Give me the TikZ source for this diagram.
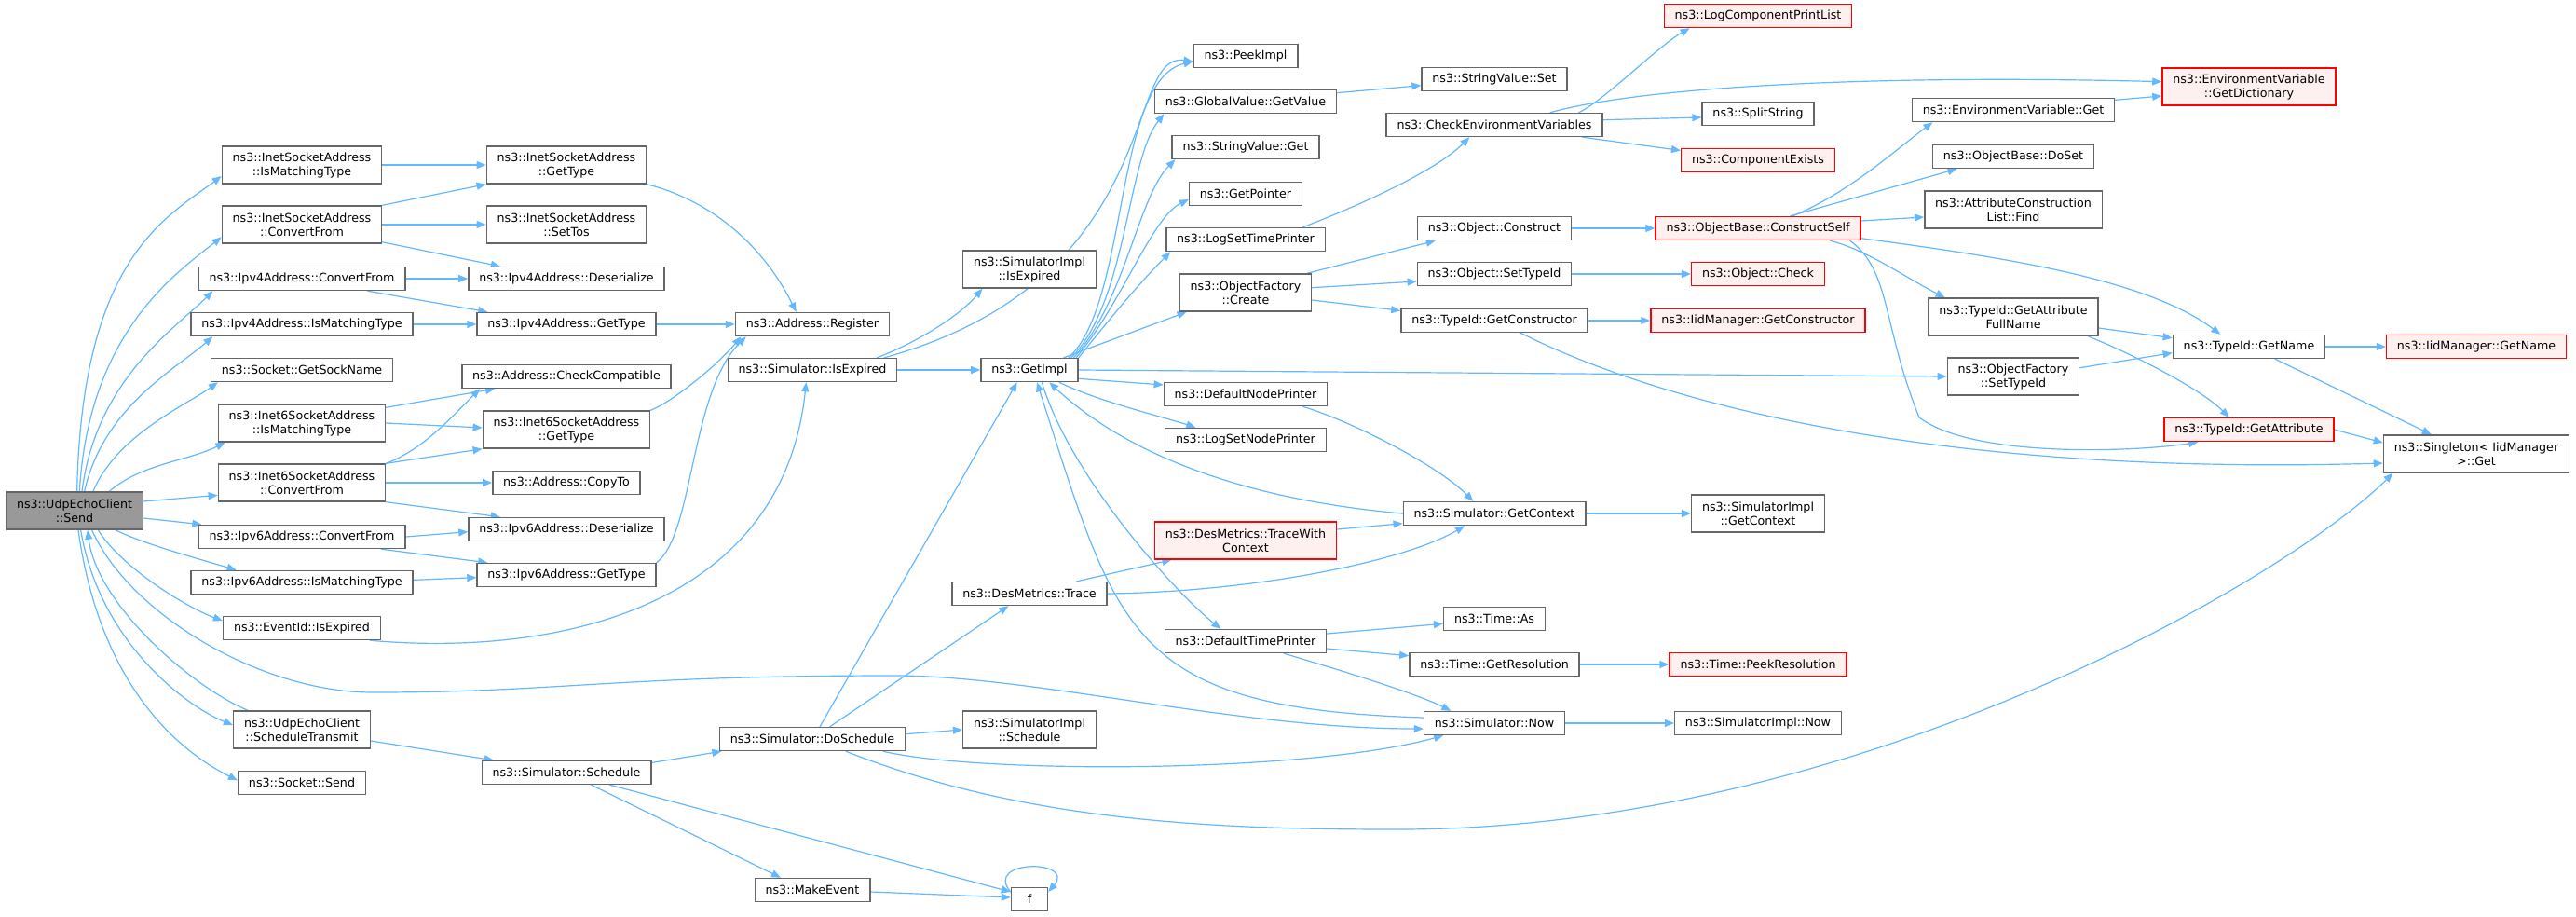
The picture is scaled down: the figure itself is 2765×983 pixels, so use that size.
\documentclass[tikz,border=0pt]{standalone}
\usepackage{fontspec}
\usepackage{xcolor}
\usepackage{tikz}
\usetikzlibrary{backgrounds,arrows.meta}
\newfontfamily\doxfont{DejaVu Sans}
\definecolor{bleuciel}{HTML}{63B8FF}
\definecolor{grisbord}{HTML}{666666}
\definecolor{grisracine}{HTML}{999999}
\definecolor{rosepale}{HTML}{FFF0F0}
\definecolor{rougevif}{HTML}{FF0000}

\begin{document}
\begin{tikzpicture}[x=0.75pt,y=-0.75pt]
                \tikzset{
                  boite/.style={
                    draw=grisbord,fill=white,line width=1.1pt,align=center,
                    font=\doxfont\fontsize{9.5pt}{11.25pt}\selectfont,text=black,
                    inner xsep=8.5pt,inner ysep=0pt,minimum height=18.75pt,
                  },
                  boite haute/.style={boite,minimum height=30pt},
                  boite rouge/.style={boite,draw=rougevif,fill=rosepale},
                  boite rouge haute/.style={boite rouge,minimum height=30pt},
                  boite racine/.style={boite haute,fill=grisracine},
                  fleche/.style={
                    line cap=round,-{Triangle[length=7.5pt,width=6pt]},line width=0.9pt,
                    draw=bleuciel,
                  },
                  }
                \useasboundingbox (0,0) rectangle (2765,983);
                % colonne 0 et 1
                \node[boite racine] (send) at (80,548) {ns3::UdpEchoClient\\::Send};
                \node[boite haute] (isaImt) at (324,177) {ns3::InetSocketAddress\\::IsMatchingType};
                \node[boite haute] (isaCf) at (324,241) {ns3::InetSocketAddress\\::ConvertFrom};
                \node[boite] (v4Cf) at (324,299) {ns3::Ipv4Address::ConvertFrom};
                \node[boite] (v4Imt) at (324,348) {ns3::Ipv4Address::IsMatchingType};
                \node[boite] (sockName) at (324,397) {ns3::Socket::GetSockName};
                \node[boite haute] (i6Imt) at (324,454) {ns3::Inet6SocketAddress\\::IsMatchingType};
                \node[boite haute] (i6Cf) at (324,518) {ns3::Inet6SocketAddress\\::ConvertFrom};
                \node[boite] (v6Cf) at (324,576) {ns3::Ipv6Address::ConvertFrom};
                \node[boite] (v6Imt) at (324,625) {ns3::Ipv6Address::IsMatchingType};
                \node[boite] (evExp) at (324,674) {ns3::EventId::IsExpired};
                \node[boite haute] (schTx) at (324,783) {ns3::UdpEchoClient\\::ScheduleTransmit};
                \node[boite] (sockSend) at (324,840) {ns3::Socket::Send};
                % colonne 2
                \node[boite haute] (isaGt) at (608,177) {ns3::InetSocketAddress\\::GetType};
                \node[boite haute] (setTos) at (608,241) {ns3::InetSocketAddress\\::SetTos};
                \node[boite] (v4Des) at (608,299) {ns3::Ipv4Address::Deserialize};
                \node[boite] (v4Gt) at (608,348) {ns3::Ipv4Address::GetType};
                \node[boite] (chkComp) at (608,404) {ns3::Address::CheckCompatible};
                \node[boite haute] (i6Gt) at (608,461) {ns3::Inet6SocketAddress\\::GetType};
                \node[boite] (copyTo) at (608,518) {ns3::Address::CopyTo};
                \node[boite] (v6Des) at (608,568) {ns3::Ipv6Address::Deserialize};
                \node[boite] (v6Gt) at (608,617) {ns3::Ipv6Address::GetType};
                \node[boite] (simSch) at (608,829) {ns3::Simulator::Schedule};
                % colonnes 3 et 4
                \node[boite] (addrReg) at (872,348) {ns3::Address::Register};
                \node[boite] (simExp) at (872,397) {ns3::Simulator::IsExpired};
                \node[boite] (doSch) at (872,793) {ns3::Simulator::DoSchedule};
                \node[boite] (mkEv) at (872,955) {ns3::MakeEvent};
                \node[boite haute] (implExp) at (1105,289) {ns3::SimulatorImpl\\::IsExpired};
                \node[boite] (getImpl) at (1105,397) {ns3::GetImpl};
                \node[boite] (trace) at (1105,637) {ns3::DesMetrics::Trace};
                \node[boite haute] (implSch) at (1105,783) {ns3::SimulatorImpl\\::Schedule};
                \node[boite, minimum width=29.25pt] (f) at (1105,965) {f};
                % colonne 5
                \node[boite] (peek) at (1337,60) {ns3::PeekImpl};
                \node[boite] (gvGet) at (1337,109) {ns3::GlobalValue::GetValue};
                \node[boite] (svGet) at (1337,158) {ns3::StringValue::Get};
                \node[boite] (getPtr) at (1337,208) {ns3::GetPointer};
                \node[boite] (logTp) at (1337,257) {ns3::LogSetTimePrinter};
                \node[boite haute] (ofCreate) at (1337,314) {ns3::ObjectFactory\\::Create};
                \node[boite] (dnp) at (1337,423) {ns3::DefaultNodePrinter};
                \node[boite] (lsnp) at (1337,472) {ns3::LogSetNodePrinter};
                \node[boite rouge haute] (twc) at (1337,580) {ns3::DesMetrics::TraceWith\\Context};
                \node[boite] (dtp) at (1337,688) {ns3::DefaultTimePrinter};
                % colonne 6
                \node[boite] (svSet) at (1604,85) {ns3::StringValue::Set};
                \node[boite] (cev) at (1604,134) {ns3::CheckEnvironmentVariables};
                \node[boite] (objCons) at (1604,245) {ns3::Object::Construct};
                \node[boite] (objSti) at (1604,294) {ns3::Object::SetTypeId};
                \node[boite] (tiGc) at (1604,344) {ns3::TypeId::GetConstructor};
                \node[boite] (getCtx) at (1604,551) {ns3::Simulator::GetContext};
                \node[boite] (timeAs) at (1604,664) {ns3::Time::As};
                \node[boite] (timeRes) at (1604,713) {ns3::Time::GetResolution};
                \node[boite] (now) at (1604,776) {ns3::Simulator::Now};
                % colonne 7
                \node[boite rouge] (lcpl) at (1887,17) {ns3::LogComponentPrintList};
                \node[boite] (split) at (1887,122) {ns3::SplitString};
                \node[boite rouge] (compEx) at (1887,172) {ns3::ComponentExists};
                \node[boite rouge] (consSelf) at (1887,245) {ns3::ObjectBase::ConstructSelf};
                \node[boite rouge] (objChk) at (1887,294) {ns3::Object::Check};
                \node[boite rouge] (iidGc) at (1887,344) {ns3::IidManager::GetConstructor};
                \node[boite haute] (implCtx) at (1887,551) {ns3::SimulatorImpl\\::GetContext};
                \node[boite rouge] (peekRes) at (1887,713) {ns3::Time::PeekResolution};
                \node[boite] (implNow) at (1887,776) {ns3::SimulatorImpl::Now};
                % colonnes 8 a 10
                \node[boite] (evGet) at (2161,118) {ns3::EnvironmentVariable::Get};
                \node[boite] (doSet) at (2161,168) {ns3::ObjectBase::DoSet};
                \node[boite haute] (aclFind) at (2161,225) {ns3::AttributeConstruction\\List::Find};
                \node[boite haute] (gafn) at (2161,340) {ns3::TypeId::GetAttribute\\FullName};
                \node[boite haute] (ofSti) at (2161,404) {ns3::ObjectFactory\\::SetTypeId};
                \node[boite rouge haute] (getDict) at (2414,93) {ns3::EnvironmentVariable\\::GetDictionary};
                \node[boite] (tiGn) at (2414,372) {ns3::TypeId::GetName};
                \node[boite rouge] (tiGa) at (2414,461) {ns3::TypeId::GetAttribute};
                \node[boite rouge] (iidGn) at (2658,372) {ns3::IidManager::GetName};
                \node[boite haute] (singleton) at (2658,487) {ns3::Singleton< IidManager\\>::Get};

                \begin{scope}[on background layer]
                    \fill[white] (0,0) rectangle (2765,983);
                    % appels de UdpEchoClient::Send
                    \draw[fleche]
                    ([xshift=2pt]send.north) .. controls +(5,-250) and +(-60,45) .. ([yshift=-9pt]isaImt.west);
                    \draw[fleche]
                    ([xshift=4pt]send.north) .. controls +(10,-170) and +(-50,40) .. ([yshift=-10pt]isaCf.west);
                    \draw[fleche]
                    ([xshift=6pt]send.north) .. controls +(15,-120) and +(-40,40) .. ([xshift=12pt]v4Cf.south west);
                    \draw[fleche]
                    ([xshift=8pt]send.north) .. controls +(20,-90) and +(-40,35) .. ([xshift=18pt]v4Imt.south west);
                    \draw[fleche]
                    ([xshift=15pt]send.north) .. controls +(25,-60) and +(-35,25) .. ([xshift=6pt]sockName.south west);
                    \draw[fleche]
                    ([xshift=28pt]send.north) .. controls +(35,-30) and +(-40,20) .. ([xshift=6pt]i6Imt.south west);
                    \draw[fleche]
                    ([yshift=7.5pt]send.east) -- ([yshift=-10pt]i6Cf.west);
                    \draw[fleche]
                    ([yshift=-6pt]send.east) -- ([xshift=3pt]v6Cf.north west);
                    \draw[fleche]
                    ([xshift=33pt]send.south) .. controls +(30,15) and +(-40,-12) .. ([xshift=37pt]v6Imt.north west);
                    \draw[fleche]
                    ([xshift=19pt]send.south) .. controls +(25,40) and +(-40,-15) .. ([yshift=-4pt]evExp.north west);
                    \draw[fleche]
                    ([xshift=14pt]send.south) .. controls +(40,90) and +(-120,0) .. (400,743)
                    .. controls +(200,0) and +(-300,0) .. (960,725)
                    .. controls +(150,0) and +(-200,0) .. ([yshift=-4.5pt]now.west);
                    \draw[fleche]
                    ([xshift=5pt]send.south) .. controls +(20,120) and +(-50,-20) .. ([yshift=3.75pt]schTx.west);
                    \draw[fleche]
                    ([xshift=-43.5pt]schTx.north) .. controls +(-60,-25) and +(10,80) .. ([xshift=10.5pt]send.south);
                    \draw[fleche]
                    ([xshift=3pt]send.south) .. controls +(25,180) and +(-50,-25) .. ([yshift=2pt]sockSend.west);
                    % colonne 1 vers colonne 2
                    \draw[fleche] (isaImt.east) -- (isaGt.west);
                    \draw[fleche] (isaCf.north east) -- (isaGt.south west);
                    \draw[fleche] (isaCf.east) -- (setTos.west);
                    \draw[fleche] ([yshift=1.5pt]isaCf.south east) -- ([xshift=26pt]v4Des.north west);
                    \draw[fleche] (v4Cf.east) -- (v4Des.west);
                    \draw[fleche] ([xshift=53pt]v4Cf.south) -- ([xshift=9pt]v4Gt.north west);
                    \draw[fleche] (v4Imt.east) -- (v4Gt.west);
                    \draw[fleche] ([yshift=-3pt]i6Imt.north east) -- ([xshift=27pt]chkComp.south west);
                    \draw[fleche] (i6Imt.east) -- ([yshift=1.5pt]i6Gt.west);
                    \draw[fleche]
                    (i6Cf.north east) .. controls +(40,-15) and +(-30,30) .. ([xshift=15pt]chkComp.south west);
                    \draw[fleche] (i6Cf.north east) -- (i6Gt.south west);
                    \draw[fleche] (i6Cf.east) -- (copyTo.west);
                    \draw[fleche] (i6Cf.south east) -- ([xshift=26pt]v6Des.north west);
                    \draw[fleche] (v6Cf.east) -- ([yshift=-2pt]v6Des.west);
                    \draw[fleche] ([xshift=64pt]v6Cf.south) -- ([xshift=9pt]v6Gt.north west);
                    \draw[fleche] ([yshift=2pt]v6Imt.east) -- ([yshift=-2pt]v6Gt.west);
                    \draw[fleche]
                    ([xshift=55pt]evExp.south) .. controls +(203,18) and +(-25,240) .. ([xshift=-5pt]simExp.south);
                    \draw[fleche] ([yshift=-9pt]schTx.east) -- ([xshift=10pt]simSch.north west);
                    % colonne 2 vers colonne 3
                    \draw[fleche]
                    (isaGt.south east) .. controls +(60,15) and +(-40,-80) .. ([xshift=-13pt]addrReg.north);
                    \draw[fleche] (v4Gt.east) -- (addrReg.west);
                    \draw[fleche]
                    (i6Gt.north east) .. controls +(25,-10) and +(-25,30) .. ([xshift=5pt]addrReg.south west);
                    \draw[fleche]
                    (v6Gt.north east) .. controls +(40,-30) and +(-60,60) .. ([xshift=9pt]addrReg.south west);
                    \draw[fleche] ([yshift=-2pt]simSch.north east) -- ([xshift=2pt]doSch.south west);
                    \draw[fleche] ([xshift=20pt]simSch.south) -- ([xshift=-25.5pt]mkEv.north);
                    \draw[fleche] ([xshift=35pt]simSch.south) -- ([yshift=6pt]f.west);
                    % colonne 3 vers la droite
                    \draw[fleche]
                    ([xshift=52pt]simExp.north) .. controls +(40,-15) and +(-25,30) .. ([xshift=-38pt]implExp.south);
                    \draw[fleche] (simExp.east) -- (getImpl.west);
                    \draw[fleche]
                    ([xshift=58pt]simExp.north) .. controls +(303,-84) and +(-75,-11) .. ([yshift=-4.5pt]peek.west);
                    \draw[fleche] ([xshift=6pt]doSch.north) -- ([xshift=-10pt]getImpl.south);
                    \draw[fleche] ([xshift=14pt]doSch.north) -- ([xshift=-17pt]trace.south);
                    \draw[fleche] ([yshift=4pt]doSch.east) -- (implSch.west);
                    \draw[fleche]
                    ([xshift=57pt]doSch.south) .. controls +(102,24) and +(-148,41) .. ([xshift=16pt]now.south west);
                    \draw[fleche]
                    ([xshift=27pt]doSch.south) .. controls +(190,75) and +(-200,0) .. (1500,890)
                    .. controls +(500,0) and +(-110,110) .. ([xshift=8pt]singleton.south west);
                    \draw[fleche] ([yshift=-1.5pt]mkEv.east) -- ([yshift=1.5pt]f.west);
                    \draw[fleche]
                    ([yshift=6pt]f.west) .. controls +(-30,-35) and +(30,-35) .. ([yshift=6pt]f.east);
                    % appels de GetImpl
                    \draw[fleche]
                    ([xshift=-8pt]getImpl.north east) .. controls +(65,-60) and +(-85,20) .. ([yshift=-4.5pt]peek.west);
                    \draw[fleche]
                    ([xshift=-6pt]getImpl.north east) .. controls +(60,-60) and +(-40,50) .. ([xshift=8pt]gvGet.south west);
                    \draw[fleche]
                    ([xshift=-4pt]getImpl.north east) .. controls +(55,-60) and +(-40,40) .. ([xshift=3pt]svGet.south west);
                    \draw[fleche]
                    ([xshift=-2pt]getImpl.north east) .. controls +(50,-60) and +(-40,20) .. ([yshift=-4.5pt]getPtr.west);
                    \draw[fleche]
                    (getImpl.north east) .. controls +(40,-50) and +(-30,30) .. ([xshift=4pt]logTp.south west);
                    \draw[fleche] ([xshift=-12pt]getImpl.north east) -- ([xshift=6pt]ofCreate.south west);
                    \draw[fleche] (getImpl.east) -- (ofSti.west);
                    \draw[fleche] ([yshift=-7pt]getImpl.east) -- ([yshift=7.5pt]dnp.west);
                    \draw[fleche]
                    ([xshift=24pt]getImpl.south) .. controls +(40,20) and +(-30,-10) .. ([xshift=25pt]lsnp.north west);
                    \draw[fleche]
                    ([xshift=10pt]getImpl.south) .. controls +(30,100) and +(-50,-40) .. ([xshift=-20pt]dtp.north);
                    \draw[fleche]
                    ([yshift=4.5pt]now.west) .. controls +(-317,-10) and +(87,270) .. ([xshift=6pt]getImpl.south);
                    \draw[fleche]
                    (getCtx.west) .. controls +(-204,-18) and +(64,60) .. ([xshift=16pt]getImpl.south);
                    \draw[fleche] ([xshift=38pt]trace.north) -- ([xshift=14pt]twc.south west);
                    \draw[fleche]
                    (trace.east) .. controls +(161,-2) and +(-62,37) .. ([xshift=-24pt]getCtx.south);
                    \draw[fleche] ([yshift=9pt]twc.east) -- ([yshift=-8pt]getCtx.west);
                    % colonne 5 vers colonne 6
                    \draw[fleche] ([yshift=7pt]gvGet.east) -- ([yshift=-5pt]svSet.west);
                    \draw[fleche]
                    ([xshift=46pt]logTp.north) .. controls +(40,-15) and +(-40,40) .. ([xshift=-20pt]cev.south);
                    \draw[fleche] ([xshift=-4pt]ofCreate.north east) -- ([xshift=15pt]objCons.south west);
                    \draw[fleche] ([yshift=4pt]ofCreate.east) -- ([yshift=-6pt]objSti.west);
                    \draw[fleche] ([yshift=-6pt]ofCreate.east) -- ([yshift=8pt]tiGc.west);
                    \draw[fleche]
                    ([xshift=46pt]dnp.south) .. controls +(50,15) and +(-40,-40) .. ([xshift=-17pt]getCtx.north);
                    \draw[fleche] ([yshift=6pt]dtp.east) -- ([yshift=-4pt]timeAs.west);
                    \draw[fleche] ([yshift=-6pt]dtp.east) -- ([yshift=7pt]timeRes.west);
                    \draw[fleche]
                    ([xshift=31pt]dtp.south) .. controls +(50,15) and +(-40,-20) .. ([xshift=-35pt]now.north);
                    % colonne 6 vers la droite
                    \draw[fleche]
                    ([xshift=68pt]cev.north) .. controls +(30,-15) and +(-35,20) .. ([xshift=21pt]lcpl.south west);
                    \draw[fleche]
                    ([xshift=45pt]cev.north) .. controls +(96,-27) and +(-319,-8) .. ([yshift=4pt]getDict.west);
                    \draw[fleche] ([yshift=4pt]cev.east) -- ([yshift=-3pt]split.west);
                    \draw[fleche] ([xshift=71pt]cev.south) -- ([yshift=-2pt]compEx.north west);
                    \draw[fleche] (objCons.east) -- (consSelf.west);
                    \draw[fleche] (objSti.east) -- (objChk.west);
                    \draw[fleche] (tiGc.east) -- (iidGc.west);
                    \draw[fleche]
                    ([xshift=21pt]tiGc.south) .. controls +(168,84) and +(-457,13) .. ([yshift=-7.5pt]singleton.west);
                    \draw[fleche] (getCtx.east) -- (implCtx.west);
                    \draw[fleche] (timeRes.east) -- (peekRes.west);
                    \draw[fleche] (now.east) -- (implNow.west);
                    % appels de ConstructSelf et suite
                    \draw[fleche]
                    ([xshift=28pt]consSelf.north) .. controls +(60,-25) and +(-40,30) .. ([xshift=17pt]evGet.south west);
                    \draw[fleche] ([xshift=26pt]consSelf.north) -- ([xshift=20pt]doSet.south west);
                    \draw[fleche] ([yshift=6pt]consSelf.east) -- ([yshift=-6pt]aclFind.west);
                    \draw[fleche]
                    ([yshift=-8pt]consSelf.east) .. controls +(150,20) and +(-80,-60) .. ([xshift=-23pt]tiGn.north);
                    \draw[fleche]
                    ([xshift=58pt]consSelf.south) .. controls +(40,10) and +(-40,-20) .. ([xshift=-55pt]gafn.north);
                    \draw[fleche]
                    ([xshift=74pt]consSelf.south) .. controls +(44,32) and +(-40,-100) .. (2060,448)
                    .. controls +(60,45) and +(-60,10) .. ([xshift=-41pt]tiGa.south);
                    \draw[fleche] ([yshift=8pt]evGet.east) -- ([yshift=-7.5pt]getDict.west);
                    \draw[fleche] ([yshift=-9pt]gafn.east) -- ([yshift=7pt]tiGn.west);
                    \draw[fleche]
                    ([xshift=60pt]gafn.south) .. controls +(50,20) and +(-30,-30) .. ([xshift=-16pt]tiGa.north);
                    \draw[fleche] ([yshift=7pt]ofSti.east) -- ([yshift=-5pt]tiGn.west);
                    \draw[fleche] (tiGn.east) -- (iidGn.west);
                    \draw[fleche] ([xshift=21pt]tiGn.south) -- ([xshift=39pt]singleton.north west);
                    \draw[fleche] (tiGa.east) -- ([yshift=9pt]singleton.west);
                \end{scope}
              \end{tikzpicture}
\end{document}
